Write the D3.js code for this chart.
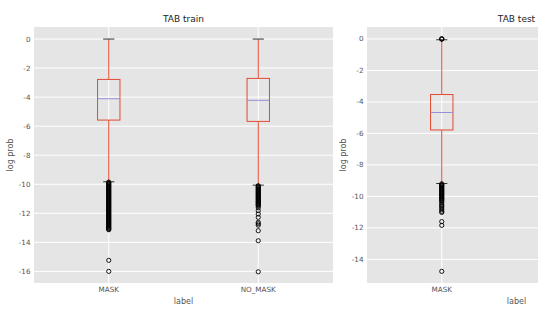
<!DOCTYPE html>
<html>
<head>
<meta charset="utf-8">
<script src="https://cdn.jsdelivr.net/npm/d3@7"></script>
<style>
  body { margin: 0; background: #fff; }
  svg { display: block; font-family: "DejaVu Sans", sans-serif; }
</style>
</head>
<body>
<div id="chart"></div>
<script>
const width = 538;
const height = 312;

// train panel
const trainLabels = ["MASK", "NO_MASK"];
const trainQ1 = [-5.58, -5.67];
const trainMedian = [-4.11, -4.22];
const trainQ3 = [-2.78, -2.71];
const trainWhiskerLow = [-9.83, -10.06];
const trainWhiskerHigh = [0, 0];
const trainOutliers = [
  [-9.85, -9.9, -9.95, -10.0, -10.05, -10.1, -10.15, -10.2, -10.25, -10.3, -10.35,
   -10.4, -10.45, -10.5, -10.55, -10.6, -10.65, -10.7, -10.75, -10.8, -10.85,
   -10.9, -10.95, -11.0, -11.05, -11.1, -11.15, -11.2, -11.25, -11.3, -11.35,
   -11.4, -11.45, -11.5, -11.55, -11.6, -11.65, -11.7, -11.75, -11.8, -11.85,
   -11.9, -11.95, -12.0, -12.05, -12.1, -12.15, -12.2, -12.25, -12.3, -12.35,
   -12.4, -12.45, -12.5, -12.55, -12.6, -12.65, -12.7, -12.75, -12.8, -12.85,
   -12.9, -12.95, -13.0, -13.05, -13.1, -13.13,
   -15.24, -16.0],
  [-10.1, -10.15, -10.2, -10.25, -10.3, -10.35, -10.4, -10.45, -10.5, -10.55,
   -10.6, -10.65, -10.7, -10.75, -10.8, -10.85, -10.9, -10.95, -11.0, -11.05,
   -11.1, -11.15, -11.2, -11.25, -11.3, -11.35, -11.4, -11.45, -11.5,
   -11.62, -11.82, -12.05, -12.28, -12.62, -12.72, -12.82, -13.2,
   -13.89, -16.03]
];

// test panel
const testLabels = ["MASK"];
const testQ1 = [-5.78];
const testMedian = [-4.67];
const testQ3 = [-3.53];
const testWhiskerLow = [-9.18];
const testWhiskerHigh = [-0.05];
const testOutliers = [
  [0.01, 0.0, -0.01, -9.2, -9.25, -9.3, -9.35, -9.4, -9.45, -9.5, -9.55, -9.6,
   -9.65, -9.7, -9.75, -9.8, -9.85, -9.9, -9.95, -10.0, -10.05, -10.1, -10.15,
   -10.2, -10.25, -10.3, -10.4, -10.5, -10.58, -10.66, -10.75, -10.85, -10.95,
   -11.02, -11.6, -11.84, -14.76]
];

const trainTicks = [0, -2, -4, -6, -8, -10, -12, -14, -16];
const testTicks = [0, -2, -4, -6, -8, -10, -12, -14];

const svg = d3
  .select("#chart")
  .append("svg")
  .attr("width", width)
  .attr("height", height);

function drawPanel(opts) {
  const { left, right, top, bottom, title, labels, yDomain, ticks } = opts;
  const g = svg.append("g");

  const x = d3.scaleLinear().domain([0.5, 2.5]).range([left, right]);
  const y = d3.scaleLinear().domain(yDomain).range([bottom, top]);

  g.append("rect")
    .attr("x", left)
    .attr("y", top)
    .attr("width", right - left)
    .attr("height", bottom - top)
    .attr("fill", "#e5e5e5");

  // grid
  g.selectAll(".hgrid")
    .data(ticks)
    .enter()
    .append("line")
    .attr("x1", left)
    .attr("x2", right)
    .attr("y1", (d) => y(d))
    .attr("y2", (d) => y(d))
    .attr("stroke", "#fff")
    .attr("stroke-width", 1);

  g.selectAll(".vgrid")
    .data(labels)
    .enter()
    .append("line")
    .attr("x1", (d, i) => x(i + 1))
    .attr("x2", (d, i) => x(i + 1))
    .attr("y1", top)
    .attr("y2", bottom)
    .attr("stroke", "#fff")
    .attr("stroke-width", 1);

  // y tick labels
  g.selectAll(".ytick")
    .data(ticks)
    .enter()
    .append("text")
    .attr("x", left - 3.5)
    .attr("y", (d) => y(d) + 2.5)
    .attr("text-anchor", "end")
    .attr("font-size", 7.2)
    .attr("fill", "#555")
    .text((d) => (d < 0 ? "-" + Math.abs(d) : d));

  // x tick labels
  g.selectAll(".xtick")
    .data(labels)
    .enter()
    .append("text")
    .attr("x", (d, i) => x(i + 1))
    .attr("y", bottom + 9)
    .attr("text-anchor", "middle")
    .attr("font-size", 7.2)
    .attr("fill", "#555")
    .text((d) => d);

  const mid = (left + right) / 2;
  g.append("text")
    .attr("x", mid)
    .attr("y", bottom + 20.5)
    .attr("text-anchor", "middle")
    .attr("font-size", 8)
    .attr("fill", "#555")
    .text("label");

  g.append("text")
    .attr("transform", `translate(${left - 21},${(top + bottom) / 2}) rotate(-90)`)
    .attr("text-anchor", "middle")
    .attr("font-size", 8)
    .attr("fill", "#555")
    .text("log prob");

  g.append("text")
    .attr("x", mid)
    .attr("y", top - 5)
    .attr("text-anchor", "middle")
    .attr("font-size", 9)
    .attr("fill", "#222")
    .text(title);

  const boxHalf = (x(1.15) - x(1)) / 2;
  const capHalf = boxHalf / 2;

  labels.forEach((lab, i) => {
    const cx = x(i + 1);
    // whiskers
    g.append("line")
      .attr("x1", cx).attr("x2", cx)
      .attr("y1", y(opts.q3[i])).attr("y2", y(opts.whiskerHigh[i]))
      .attr("stroke", "#E24A33").attr("stroke-width", 1);
    g.append("line")
      .attr("x1", cx).attr("x2", cx)
      .attr("y1", y(opts.q1[i])).attr("y2", y(opts.whiskerLow[i]))
      .attr("stroke", "#E24A33").attr("stroke-width", 1);
    // box
    g.append("rect")
      .attr("x", cx - boxHalf)
      .attr("y", y(opts.q3[i]))
      .attr("width", boxHalf * 2)
      .attr("height", y(opts.q1[i]) - y(opts.q3[i]))
      .attr("fill", "none")
      .attr("stroke", "#E24A33")
      .attr("stroke-width", 1);
    // median
    g.append("line")
      .attr("x1", cx - boxHalf).attr("x2", cx + boxHalf)
      .attr("y1", y(opts.median[i])).attr("y2", y(opts.median[i]))
      .attr("stroke", "#988ED5").attr("stroke-width", 1);
    // caps
    [opts.whiskerHigh[i], opts.whiskerLow[i]].forEach((v) => {
      g.append("line")
        .attr("x1", cx - capHalf).attr("x2", cx + capHalf)
        .attr("y1", y(v)).attr("y2", y(v))
        .attr("stroke", "#333").attr("stroke-width", 1);
    });
    // fliers
    g.selectAll(null)
      .data(opts.outliers[i])
      .enter()
      .append("circle")
      .attr("cx", cx)
      .attr("cy", (d) => y(d))
      .attr("r", 2.1)
      .attr("fill", "none")
      .attr("stroke", "#000")
      .attr("stroke-width", 0.9);
  });
}

drawPanel({
  left: 34, right: 333, top: 27, bottom: 283,
  title: "TAB train",
  labels: trainLabels,
  yDomain: [-16.8, 0.83],
  ticks: trainTicks,
  q1: trainQ1, q3: trainQ3, median: trainMedian,
  whiskerLow: trainWhiskerLow, whiskerHigh: trainWhiskerHigh,
  outliers: trainOutliers,
});

drawPanel({
  left: 367, right: 666, top: 27, bottom: 283,
  title: "TAB test",
  labels: testLabels,
  yDomain: [-15.5, 0.76],
  ticks: testTicks,
  q1: testQ1, q3: testQ3, median: testMedian,
  whiskerLow: testWhiskerLow, whiskerHigh: testWhiskerHigh,
  outliers: testOutliers,
});
</script>
</body>
</html>
